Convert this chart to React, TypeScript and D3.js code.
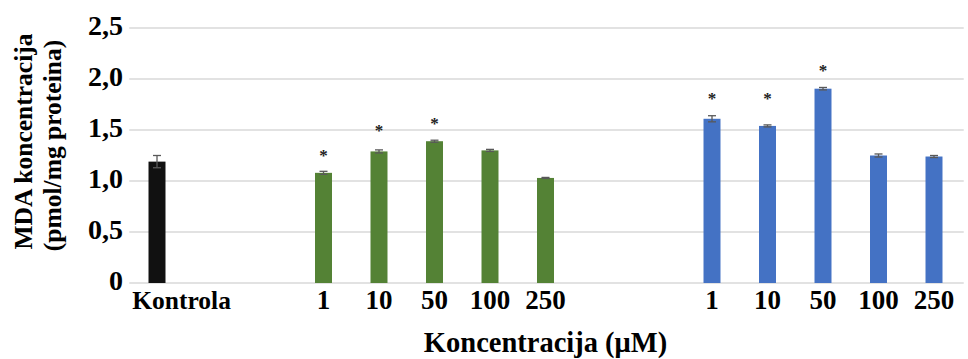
import React from "react";
import * as d3 from "d3";

// ---- data ----
const slotKeys = ["K", "e1", "e2", "g1", "g10", "g50", "g100", "g250", "e3", "e4", "b1", "b10", "b50", "b100", "b250"];
const slotLabels = ["Kontrola", "", "", "1", "10", "50", "100", "250", "", "", "1", "10", "50", "100", "250"];
const barKeys = ["K", "g1", "g10", "g50", "g100", "g250", "b1", "b10", "b50", "b100", "b250"];
const barValues = [1.19, 1.08, 1.29, 1.39, 1.30, 1.03, 1.61, 1.54, 1.905, 1.25, 1.24];
const barErrors = [0.06, 0.015, 0.015, 0.01, 0.01, 0.005, 0.03, 0.01, 0.012, 0.015, 0.01];
const barGroups = ["control", "green", "green", "green", "green", "green", "blue", "blue", "blue", "blue", "blue"];
const starKeys = ["g1", "g10", "g50", "b1", "b10", "b50"];
const starLevels = [1.27, 1.52, 1.59, 1.83, 1.83, 2.11];
const yTicks = [0, 0.5, 1.0, 1.5, 2.0, 2.5];
const yTickLabels = ["0", "0,5", "1,0", "1,5", "2,0", "2,5"];

const colors: Record<string, string> = { control: "#111111", green: "#548235", blue: "#4472C4" };
const FONT = "'Liberation Serif', 'Times New Roman', serif";

export default function App() {
  const W = 968, H = 359;
  const x = d3.scaleBand<string>().domain(slotKeys).range([129.25, 961.75]).paddingInner(0.694).paddingOuter(0.347);
  const y = d3.scaleLinear().domain([0, 2.5]).range([283, 28]);
  const bw = x.bandwidth();
  const [x0, x1] = x.range();

  return (
    <svg width={W} height={H} style={{ position: "absolute", left: 0, top: 0, background: "#fff" }}>
      {/* gridlines */}
      {yTicks.map((t, i) => (
        <line key={"g" + i} x1={x0} x2={x1 + 2} y1={y(t)} y2={y(t)} stroke="#d9d9d9" strokeWidth={1.5} />
      ))}
      {/* y tick labels */}
      {yTicks.map((t, i) => (
        <text key={"yt" + i} x={123} y={y(t) + 7} textAnchor="end" fontFamily={FONT} fontWeight="bold" fontSize={28} fill="#000">
          {yTickLabels[i]}
        </text>
      ))}
      {/* bars */}
      {barKeys.map((k, i) => {
        const bx = x(k)!;
        const top = y(barValues[i]);
        const cx = bx + bw / 2;
        const eTop = y(barValues[i] + barErrors[i]);
        const eBot = y(barValues[i] - barErrors[i]);
        return (
          <g key={"b" + k}>
            <rect x={bx} y={top} width={bw} height={y(0) - top} fill={colors[barGroups[i]]} />
            <line x1={cx} x2={cx} y1={eTop} y2={eBot} stroke="#595959" strokeWidth={1.3} />
            <line x1={cx - 4} x2={cx + 4} y1={eTop} y2={eTop} stroke="#595959" strokeWidth={1.3} />
            <line x1={cx - 4} x2={cx + 4} y1={eBot} y2={eBot} stroke="#595959" strokeWidth={1.3} />
          </g>
        );
      })}
      {/* significance stars */}
      {starKeys.map((k, i) => (
        <text key={"s" + k} x={x(k)! + bw / 2} y={y(starLevels[i]) + 8} textAnchor="middle" fontFamily={FONT} fontWeight="bold" fontSize={17} fill="#222">
          *
        </text>
      ))}
      {/* x labels */}
      {slotKeys.map((k, i) =>
        slotLabels[i] ? (
          i === 0 ? (
            <text key={"xl" + k} x={x0 + 3} y={309} textAnchor="start" fontFamily={FONT} fontWeight="bold" fontSize={25.5} fill="#000">
              {slotLabels[i]}
            </text>
          ) : (
            <text key={"xl" + k} x={x(k)! + bw / 2} y={309} textAnchor="middle" fontFamily={FONT} fontWeight="bold" fontSize={27} fill="#000">
              {slotLabels[i]}
            </text>
          )
        ) : null
      )}
      {/* x axis title */}
      <text x={(x0 + x1) / 2} y={352} textAnchor="middle" fontFamily={FONT} fontWeight="bold" fontSize={28.5} fill="#000">
        Koncentracija (μM)
      </text>
      {/* y axis title */}
      <g transform={`translate(32, ${(y(0) + y(2.5)) / 2 - 14}) rotate(-90)`}>
        <text x={0} y={0} textAnchor="middle" fontFamily={FONT} fontWeight="bold" fontSize={25.5} fill="#000">
          MDA koncentracija
        </text>
      </g>
      <g transform={`translate(61, ${(y(0) + y(2.5)) / 2 - 10}) rotate(-90)`}>
        <text x={0} y={0} textAnchor="middle" fontFamily={FONT} fontWeight="bold" fontSize={25.5} fill="#000">
          (pmol/mg proteina)
        </text>
      </g>
    </svg>
  );
}
